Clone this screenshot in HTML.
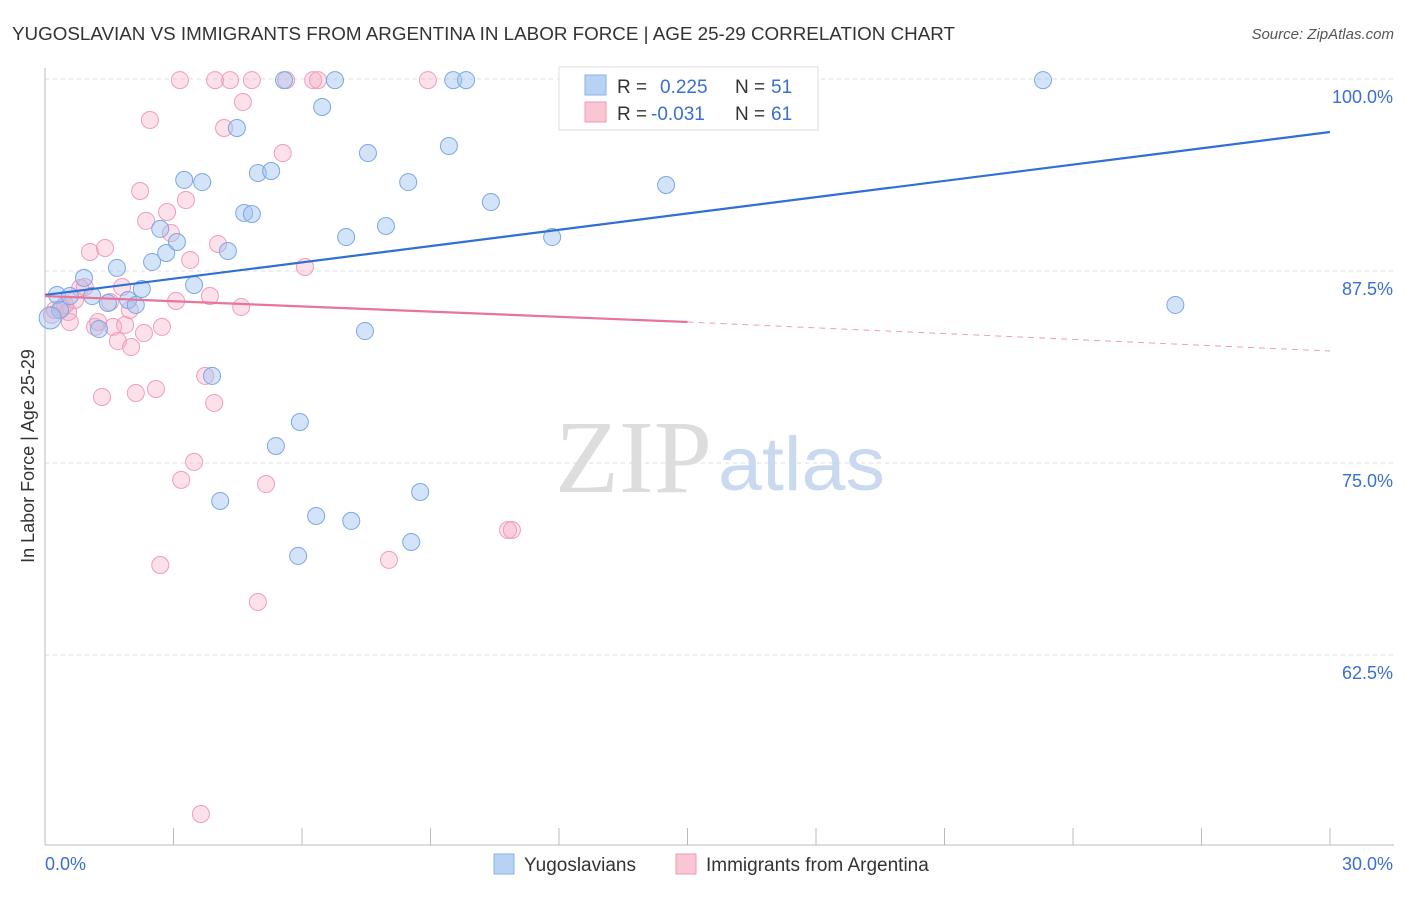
<!DOCTYPE html>
<html><head><meta charset="utf-8"><style>
body{margin:0;background:#fff;font-family:"Liberation Sans",sans-serif}
svg text{font-family:"Liberation Sans",sans-serif}
</style></head><body>
<svg id="c" width="1406" height="892" viewBox="0 0 1406 892">
<text x="12" y="40" font-size="18" fill="#333" textLength="943" lengthAdjust="spacingAndGlyphs">YUGOSLAVIAN VS IMMIGRANTS FROM ARGENTINA IN LABOR FORCE | AGE 25-29 CORRELATION CHART</text>
<text x="1394" y="39" font-size="15" fill="#555" font-style="italic" text-anchor="end">Source: ZipAtlas.com</text>
<text x="34" y="456" font-size="18" fill="#333" text-anchor="middle" transform="rotate(-90 34 456)">In Labor Force | Age 25-29</text>
<g id="grid"></g><g id="axes"></g>
<text x="555" y="492" font-size="104" fill="#ddd" textLength="157" lengthAdjust="spacingAndGlyphs" style="font-family:'Liberation Serif',serif">ZIP</text>
<text x="718" y="490" font-size="76" fill="#c8d9f0" textLength="167" lengthAdjust="spacingAndGlyphs">atlas</text>
<g id="pts"></g><g id="lines"></g>
<g>
<rect x="559" y="67" width="259" height="63" fill="#fff" stroke="#ddd"/>
<rect x="585" y="75" width="21" height="20" fill="#b8d2f4" stroke="#8ab2e6"/>
<rect x="585" y="102" width="21" height="20" fill="#f9c6d4" stroke="#ee9ab8"/>
<text x="617" y="93" font-size="19" fill="#333">R =</text><text x="660" y="93" font-size="19" fill="#3a6fd0">0.225</text>
<text x="735" y="93" font-size="19" fill="#333">N =</text><text x="771" y="93" font-size="19" fill="#3a6fd0">51</text>
<text x="617" y="120" font-size="19" fill="#333">R =</text><text x="651" y="120" font-size="19" fill="#3a6fd0">-0.031</text>
<text x="735" y="120" font-size="19" fill="#333">N =</text><text x="771" y="120" font-size="19" fill="#3a6fd0">61</text>
</g>
<g>
<rect x="494" y="854" width="20" height="20" fill="#b8d2f4" stroke="#8ab2e6"/>
<text x="524" y="871" font-size="19" fill="#333">Yugoslavians</text>
<rect x="676" y="854" width="20" height="20" fill="#f9c6d4" stroke="#ee9ab8"/>
<text x="706" y="871" font-size="19" fill="#333">Immigrants from Argentina</text>
</g>
</svg>
<script>
const blueX=[0.28,0.91,1.10,1.26,1.68,1.47,1.94,2.12,2.26,2.50,2.69,2.83,3.08,3.25,3.67,3.48,3.90,4.09,4.27,4.48,4.65,4.83,4.97,5.28,5.39,5.58,5.91,5.95,6.33,6.47,6.77,7.03,7.15,7.47,7.54,7.96,8.48,8.55,8.76,9.43,9.53,9.83,10.41,11.84,14.50,15.48,23.30,26.39,0.58,0.35,0.12];
const blueY=[85.94,87.05,85.87,83.72,87.70,85.42,85.61,85.29,86.33,88.09,90.24,88.67,89.39,93.43,93.29,86.59,80.67,72.53,88.80,96.81,91.28,91.21,93.88,94.01,76.11,99.93,68.95,77.67,71.55,98.18,99.93,89.71,71.23,83.59,95.18,90.43,93.29,69.86,73.11,95.64,99.93,99.93,91.99,89.71,93.10,99.93,99.93,85.29,85.87,84.96,84.44];
const pinkX=[0.16,0.23,0.40,0.54,0.58,0.70,0.82,0.93,1.05,1.17,1.33,1.40,1.52,1.59,1.70,1.80,1.87,2.01,2.12,2.22,2.36,2.31,2.45,2.59,2.69,2.73,2.85,2.94,3.06,3.18,3.29,3.39,3.48,3.64,3.74,3.85,3.95,4.04,4.18,4.58,4.62,4.97,5.16,5.55,5.63,6.07,6.26,6.37,3.15,3.97,4.32,4.83,8.03,8.94,10.81,10.90,1.24,1.98,0.47];
const pinkY=[84.64,84.96,85.09,84.83,84.18,85.61,86.39,86.46,88.74,83.86,79.30,89.00,85.48,83.86,82.94,86.46,83.99,82.55,79.56,92.71,90.76,83.46,97.33,79.82,68.36,83.86,91.34,89.97,85.55,73.90,92.12,88.22,75.07,52.15,80.67,85.87,78.91,89.26,96.81,85.16,98.50,65.95,73.63,95.18,99.93,87.76,99.93,99.93,99.93,99.93,99.93,99.93,68.69,99.93,70.64,70.64,84.18,84.96,85.29];
const yTicks=[100,87.5,75,62.5];
const yTickLabels=["100.0%","87.5%","75.0%","62.5%"];
const blueTrend=[85.94,96.55];
const pinkTrend=[85.87,84.18,82.29];
const NS="http://www.w3.org/2000/svg";
const X=v=>45+v/30*1285, Y=v=>79+(100-v)/12.5*192;
function mk(t,a,p){const e=document.createElementNS(NS,t);for(const k in a)e.setAttribute(k,a[k]);document.getElementById(p).appendChild(e);return e;}
yTicks.forEach((t,i)=>{
 const g=mk('line',{x1:45,x2:1394,y1:Y(t),y2:Y(t),stroke:'#ddd','stroke-dasharray':'4,4'},'grid');
 
 
 const l=mk('text',{x:1393,y:Y(t)+24,'font-size':18,fill:'#3a6fd0','text-anchor':'end'},'axes');l.textContent=yTickLabels[i];
 
 
});
mk('line',{x1:45,x2:45,y1:68,y2:845,stroke:'#bbb'},'axes');
mk('line',{x1:45,x2:1394,y1:845,y2:845,stroke:'#bbb'},'axes');
for(let i=0;i<=10;i++){const t=mk('line',{x1:X(i*3),x2:X(i*3),y1:828,y2:845,stroke:'#bbb'},'axes');
 
 }
let a=mk('text',{x:45,y:870,'font-size':18,fill:'#3a6fd0'},'axes');a.textContent='0.0%';


a=mk('text',{x:1393,y:870,'font-size':18,fill:'#3a6fd0','text-anchor':'end'},'axes');a.textContent='30.0%';


pinkX.forEach((v,i)=>{const c=mk('circle',{cx:X(v),cy:Y(pinkY[i]),r:8.5,fill:'rgba(246,170,196,0.35)',stroke:'#ef9dba','stroke-width':1},'pts');
 
 });
blueX.forEach((v,i)=>{const c=mk('circle',{cx:X(v),cy:Y(blueY[i]),r:i==50?11:8.5,fill:'rgba(160,196,240,0.45)',stroke:'#7aa8e4','stroke-width':1},'pts');
 
 });
let L=mk('line',{x1:X(0),y1:Y(blueTrend[0]),x2:X(30),y2:Y(blueTrend[1]),stroke:'#2f6fd6','stroke-width':2.2},'lines');


L=mk('line',{x1:X(0),y1:Y(pinkTrend[0]),x2:X(15),y2:Y(pinkTrend[1]),stroke:'#e8739b','stroke-width':2.2},'lines');


L=mk('line',{x1:X(15),y1:Y(pinkTrend[1]),x2:X(30),y2:Y(pinkTrend[2]),stroke:'#e8a0b8','stroke-width':1,'stroke-dasharray':'6,5'},'lines');


</script>
</body></html>
